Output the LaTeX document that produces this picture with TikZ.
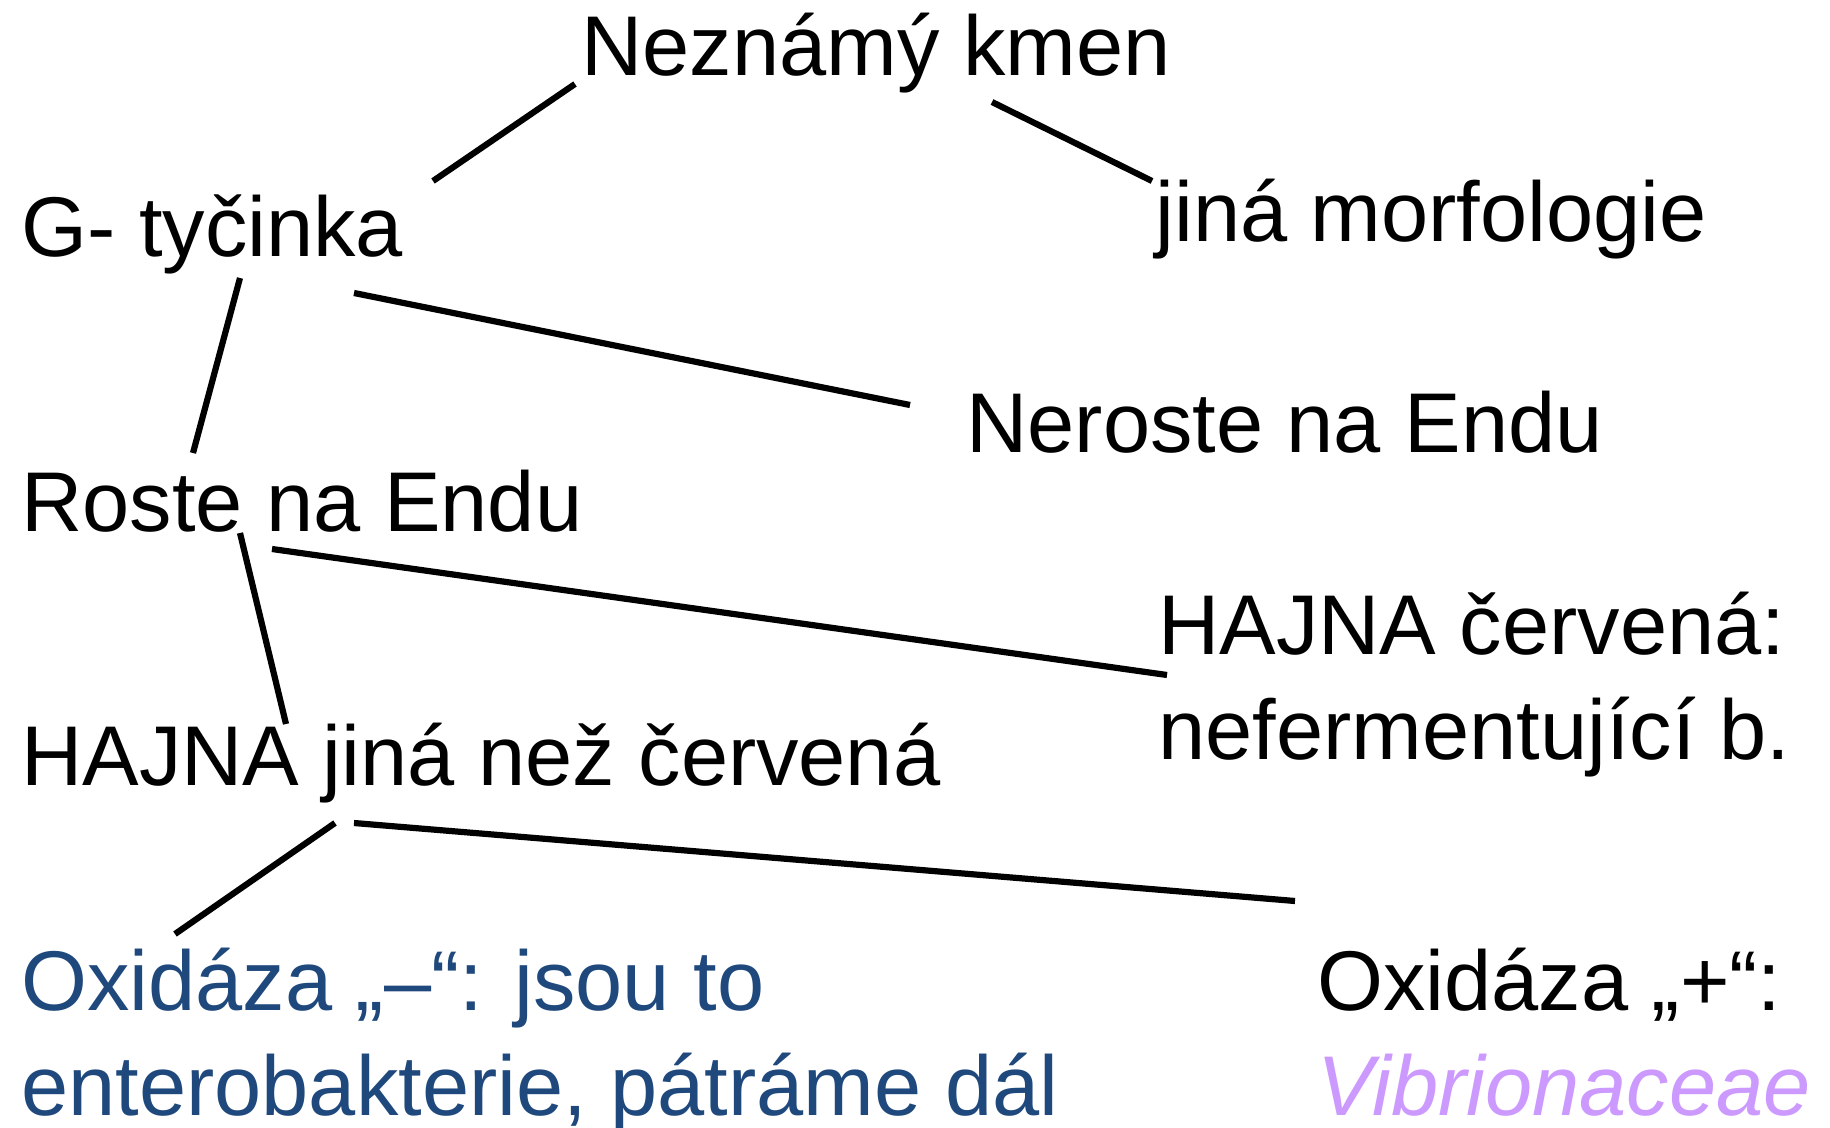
\documentclass[tikz,border=0pt]{standalone}
\usepackage{fontspec}
\setmainfont{Liberation Sans}
\definecolor{oxblue}{RGB}{31,73,125}
\definecolor{vibpurple}{RGB}{204,153,255}
\begin{document}
\begin{tikzpicture}[x=0.5pt,y=-0.5pt,
  lbl/.style={anchor=base west,inner sep=0pt,align=left,font=\fontsize{42.4}{52.5}\selectfont},
  conn/.style={line width=3.1pt}]
\useasboundingbox (0,0) rectangle (1830,1128);
\node[lbl] (root) at (581,76) {Neznámý kmen};
\node[lbl] (gt) at (21,257) {G- tyčinka};
\node[lbl] (jm) at (1155,242) {jiná morfologie};
\node[lbl] (ne) at (966,452) {Neroste na Endu};
\node[lbl] (re) at (21,531) {Roste na Endu};
\node[lbl] (hc) at (1158,759) {HAJNA červená:\\nefermentující b.};
\node[lbl] (hj) at (21,785) {HAJNA jiná než červená};
\node[lbl,text=oxblue] (om) at (21,1115) {Oxidáza „–“: jsou to\\enterobakterie, pátráme dál};
\node[lbl] (op) at (1317,1115) {Oxidáza „+“:\\\textcolor{vibpurple}{\itshape Vibrionaceae}};
\coordinate (a1) at (575,84);   \coordinate (b1) at (433,181);
\coordinate (a2) at (992,102);  \coordinate (b2) at (1152,181);
\coordinate (a3) at (240,278);  \coordinate (b3) at (193,453);
\coordinate (a4) at (354,293);  \coordinate (b4) at (910,405);
\coordinate (a5) at (240,533);  \coordinate (b5) at (286,724);
\coordinate (a6) at (272,549);  \coordinate (b6) at (1167,675);
\coordinate (a7) at (335,823);  \coordinate (b7) at (175,934);
\coordinate (a8) at (354,823);  \coordinate (b8) at (1295,901);
\draw[conn] (a1) -- (b1);
\draw[conn] (a2) -- (b2);
\draw[conn] (a3) -- (b3);
\draw[conn] (a4) -- (b4);
\draw[conn] (a5) -- (b5);
\draw[conn] (a6) -- (b6);
\draw[conn] (a7) -- (b7);
\draw[conn] (a8) -- (b8);
\end{tikzpicture}
\end{document}
